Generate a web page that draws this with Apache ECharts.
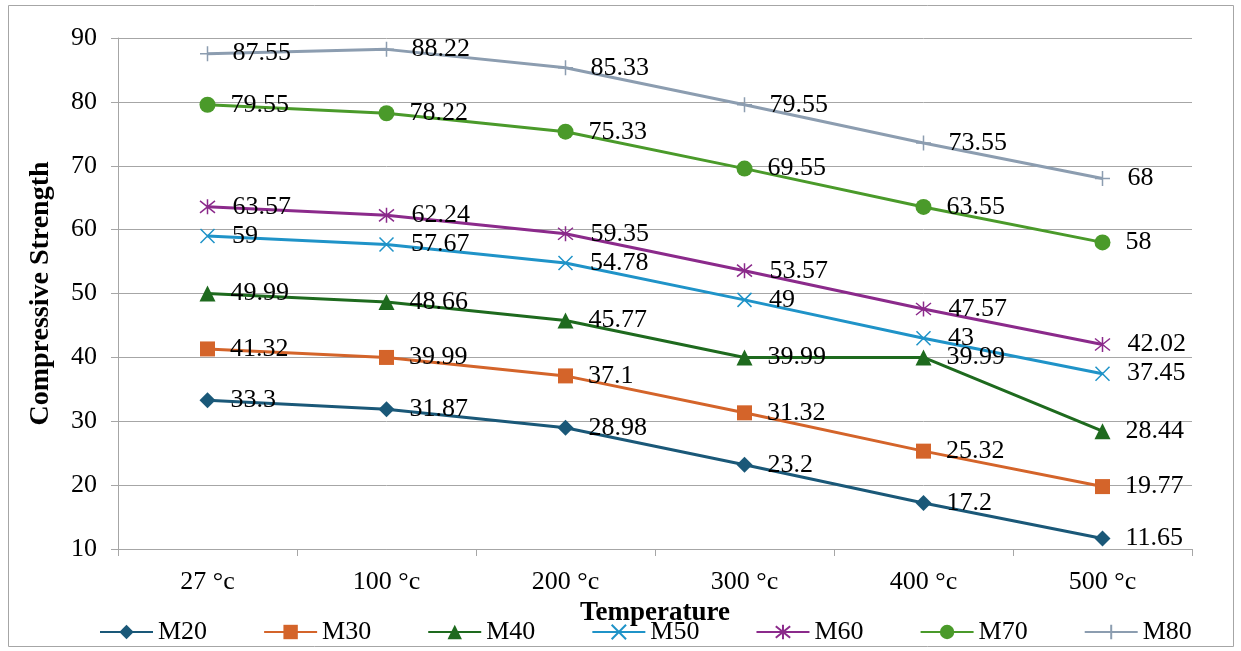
<!DOCTYPE html>
<html>
<head>
<meta charset="utf-8">
<script src="https://cdn.jsdelivr.net/npm/echarts@6/dist/echarts.min.js"></script>
<style>
  html, body { margin: 0; padding: 0; background: #fff; }
  #chart { width: 1241px; height: 651px; }
</style>
</head>
<body>
<div id="chart"></div>
<script>
var temperatures = ["27 °c", "100 °c", "200 °c", "300 °c", "400 °c", "500 °c"];
var m20 = [33.3, 31.87, 28.98, 23.2, 17.2, 11.65];
var m30 = [41.32, 39.99, 37.1, 31.32, 25.32, 19.77];
var m40 = [49.99, 48.66, 45.77, 39.99, 39.99, 28.44];
var m50 = [59, 57.67, 54.78, 49, 43, 37.45];
var m60 = [63.57, 62.24, 59.35, 53.57, 47.57, 42.02];
var m70 = [79.55, 78.22, 75.33, 69.55, 63.55, 58];
var m80 = [87.55, 88.22, 85.33, 79.55, 73.55, 68];

var font = "Liberation Serif";

function makeSeries(name, data, color, symbol, size, stroked) {
  var s = {
    name: name,
    type: "line",
    data: data,
    symbol: symbol,
    symbolSize: size,
    lineStyle: { color: color, width: 3 },
    itemStyle: { color: color },
    label: {
      show: true,
      position: "right",
      distance: 15,
      color: "#000",
      fontFamily: font,
      fontSize: 26
    }
  };
  if (stroked) {
    s.itemStyle = { color: "none", borderColor: color, borderWidth: 1.5 };
  }
  return s;
}

var chart = echarts.init(document.getElementById("chart"));

var option = {
  animation: false,
  textStyle: { fontFamily: font },
  graphic: [
    {
      type: "rect",
      shape: { x: 8.5, y: 5.5, width: 1225, height: 641 },
      style: { fill: "none", stroke: "#a6a6a6", lineWidth: 1 }
    }
  ],
  grid: { left: 118, right: 49, top: 38, bottom: 102 },
  legend: {
    bottom: 1,
    left: 94,
    itemWidth: 53,
    itemHeight: 18,
    itemGap: 56,
    textStyle: { fontFamily: font, fontSize: 26, color: "#000" },
    data: ["M20", "M30", "M40", "M50", "M60", "M70", "M80"]
  },
  xAxis: {
    type: "category",
    data: temperatures,
    boundaryGap: true,
    name: "Temperature",
    nameLocation: "middle",
    nameGap: 41,
    nameTextStyle: { fontFamily: font, fontSize: 27, fontWeight: "bold", color: "#000" },
    axisLine: { lineStyle: { color: "#a6a6a6", width: 1 } },
    axisTick: { show: true, length: 7, lineStyle: { color: "#a6a6a6" } },
    axisLabel: { fontFamily: font, fontSize: 26, color: "#000", margin: 20 }
  },
  yAxis: {
    type: "value",
    min: 10,
    max: 90,
    interval: 10,
    name: "Compressive Strength",
    nameLocation: "middle",
    nameGap: 63,
    nameTextStyle: { fontFamily: font, fontSize: 28, fontWeight: "bold", color: "#000" },
    axisLine: { show: true, lineStyle: { color: "#a6a6a6", width: 1 } },
    axisTick: { show: true, length: 7, lineStyle: { color: "#a6a6a6" } },
    axisLabel: { fontFamily: font, fontSize: 26, color: "#000", margin: 21 },
    splitLine: { lineStyle: { color: "#a6a6a6", width: 1 } }
  },
  series: [
    makeSeries("M20", m20, "#1a5878", "diamond", 16, false),
    makeSeries("M30", m30, "#d4642a", "rect", 15, false),
    makeSeries("M40", m40, "#1e6a1e", "triangle", 16, false),
    makeSeries("M50", m50, "#1f93c8", "path://M0,0L10,10M10,0L0,10", 14, true),
    makeSeries("M60", m60, "#8b2a8b", "path://M5,0L5,10M0,1L10,9M10,1L0,9", 15, true),
    makeSeries("M70", m70, "#4a9a2a", "circle", 16, false),
    makeSeries("M80", m80, "#8c9db0", "path://M5,0L5,10M0,5L10,5", 15, true)
  ]
};

chart.setOption(option);
</script>
</body>
</html>
